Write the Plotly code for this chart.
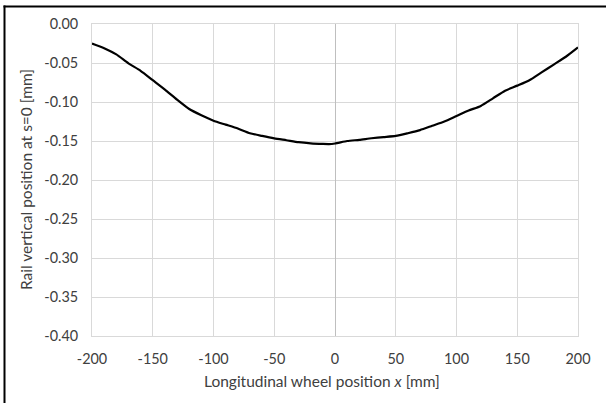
import plotly.graph_objects as go

# Longitudinal wheel position x [mm]
x_pos = [-200, -190, -180, -170, -160, -150, -140, -130, -120, -110, -100,
         -90, -80, -70, -60, -50, -40, -30, -20, -10, -5, 0,
         10, 20, 30, 40, 50, 60, 70, 80, 90, 100,
         110, 120, 130, 140, 150, 160, 170, 180, 190, 200]
# Rail vertical position at s=0 [mm]
rail_z = [-0.025, -0.031, -0.039, -0.0505, -0.060, -0.072, -0.084, -0.097, -0.109, -0.117, -0.124,
          -0.129, -0.134, -0.140, -0.1435, -0.1466, -0.149, -0.1515, -0.153, -0.1538, -0.154, -0.1532,
          -0.150, -0.1485, -0.1465, -0.145, -0.1435, -0.140, -0.136, -0.1305, -0.125, -0.118,
          -0.111, -0.105, -0.0953, -0.0855, -0.079, -0.072, -0.062, -0.052, -0.042, -0.030]

x_ticks = [-200, -150, -100, -50, 0, 50, 100, 150, 200]
x_tick_text = ["-200", "-150", "-100", "-50", "0", "50", "100", "150", "200"]
y_ticks = [0.0, -0.05, -0.10, -0.15, -0.20, -0.25, -0.30, -0.35, -0.40]
y_tick_text = ["0.00", "-0.05", "-0.10", "-0.15", "-0.20", "-0.25", "-0.30", "-0.35", "-0.40"]

FONT = "Lato, Carlito, Calibri, sans-serif"
TXT = "#404040"
GRID = "#d9d9d9"

fig = go.Figure()
fig.add_trace(go.Scatter(x=x_pos, y=rail_z, mode="lines",
                         line=dict(color="#000000", width=2.2, shape="spline", smoothing=0.6),
                         showlegend=False))

W, H = 606, 403
L, R, T, B = 92, 28, 24, 67
pw, ph = W - L - R, H - T - B

def px_x(p):
    return (p - L) / pw

def px_y(p):
    return (H - B - p) / ph

border = dict(color="#000000", width=2)
fig.update_layout(
    width=W, height=H,
    margin=dict(l=L, r=R, t=T, b=B),
    paper_bgcolor="white", plot_bgcolor="white",
    font=dict(family=FONT, size=14.4, color=TXT),
    xaxis=dict(range=[-200, 200], tickvals=x_ticks, ticktext=x_tick_text, ticks="",
               showgrid=True, gridcolor=GRID, gridwidth=1, zeroline=True,
               zerolinecolor="#bfbfbf", zerolinewidth=1, showline=True, linecolor=GRID,
               mirror=True, ticklabelstandoff=10, fixedrange=True),
    yaxis=dict(range=[-0.40, 0.0], tickvals=y_ticks, ticktext=y_tick_text, ticks="",
               showgrid=True, gridcolor=GRID, gridwidth=1, zeroline=False,
               showline=True, linecolor=GRID, mirror=True,
               ticklabelstandoff=10, fixedrange=True),
    shapes=[
        dict(type="line", xref="paper", yref="paper",
             x0=px_x(4.5), x1=px_x(4.5), y0=px_y(403), y1=px_y(5.5), line=border, layer="above"),
        dict(type="line", xref="paper", yref="paper",
             x0=px_x(3.5), x1=px_x(606), y0=px_y(6.5), y1=px_y(6.5), line=border, layer="above"),
    ],
    annotations=[
        dict(text="Longitudinal wheel position <i>x</i> [mm]", xref="paper", yref="paper",
             x=px_x(321.5), y=px_y(381), xanchor="center", yanchor="middle",
             showarrow=False, font=dict(family=FONT, size=15.5, color=TXT)),
        dict(text="Rail vertical position at s=0 [mm]", xref="paper", yref="paper",
             x=px_x(26), y=0.5, xanchor="center", yanchor="middle", textangle=-90,
             showarrow=False, font=dict(family=FONT, size=15.5, color=TXT)),
    ],
)

fig.write_html("out.html")
